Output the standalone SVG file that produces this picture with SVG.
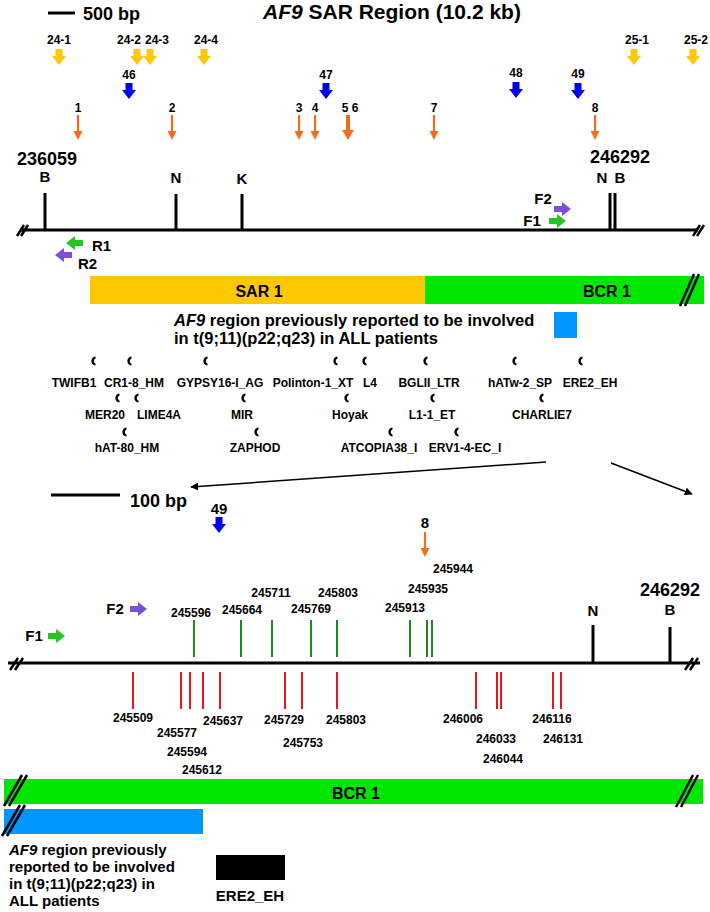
<svg xmlns="http://www.w3.org/2000/svg" xmlns:xlink="http://www.w3.org/1999/xlink" width="710" height="912" viewBox="0 0 710 912">
<style>
text{font-family:"Liberation Sans",Arial,Helvetica,sans-serif;font-weight:bold;fill:#000}
.t12{font-size:12px}
.t15{font-size:15px}
.t16{font-size:16px}
.t18{font-size:18px}
.mid{text-anchor:middle}
.ax{stroke:#000;stroke-width:3;fill:none}
.gt{stroke:#1c8a1c;stroke-width:2}
.rt{stroke:#e8161e;stroke-width:2}
.brk{stroke:#000;stroke-width:2.5}
.zl{stroke:#000;stroke-width:1.5;fill:none}
</style>
<defs>
<path id="darr" d="M-3.5,0H3.5V7H7L0,16L-7,7H-3.5Z"/>
<path id="rarr" d="M-8,-3H0V-7L9,0L0,7V3H-8Z"/>
<path id="larr" d="M8,-3H0V-7L-9,0L0,7V3H8Z"/>
<g id="oarr"><line x1="0" y1="0" x2="0" y2="17" stroke="#f36d21" stroke-width="2.2"/><path d="M-4.5,16L4.5,16L0,25Z" fill="#f36d21"/></g>
<g id="oarrb"><line x1="0" y1="0" x2="0" y2="16" stroke="#f36d21" stroke-width="4"/><path d="M-6,15L6,15L0,25Z" fill="#f36d21"/></g>
<path id="cres" d="M2.5,-4.5C-3,-4 -3,4 2.5,4.5L2.5,2.6C0.3,1.6 0.3,-1.6 2.5,-2.6Z" fill="#000"/>
<marker id="ah" viewBox="0 0 10 10" refX="9" refY="5" markerWidth="8" markerHeight="8" markerUnits="userSpaceOnUse" orient="auto"><path d="M0,0L10,5L0,10Z" fill="#000"/></marker>
</defs>

<g id="title">
<text x="263" y="19" style="font-size:21px"><tspan font-style="italic">AF9</tspan> SAR Region (10.2 kb)</text>
</g>
<g id="scale500">
<line x1="48" y1="13" x2="75" y2="13" stroke="#000" stroke-width="3"/>
<text x="83" y="20" class="t18">500 bp</text>
</g>

<g id="yellow-sites" fill="#fdc70c">
<use xlink:href="#darr" x="59" y="49"/><text x="59" y="44" class="t12 mid">24-1</text>
<use xlink:href="#darr" x="137" y="49"/><text x="129" y="44" class="t12 mid">24-2</text>
<use xlink:href="#darr" x="150" y="49"/><text x="157" y="44" class="t12 mid">24-3</text>
<use xlink:href="#darr" x="204" y="49"/><text x="206" y="44" class="t12 mid">24-4</text>
<use xlink:href="#darr" x="634" y="49"/><text x="637" y="44" class="t12 mid">25-1</text>
<use xlink:href="#darr" x="693" y="49"/><text x="696" y="44" class="t12 mid">25-2</text>
</g>

<g id="blue-sites" fill="#0000f0">
<use xlink:href="#darr" x="129" y="83"/><text x="129" y="79" class="t12 mid">46</text>
<use xlink:href="#darr" x="326" y="83"/><text x="326" y="79" class="t12 mid">47</text>
<use xlink:href="#darr" x="516" y="82"/><text x="516" y="77" class="t12 mid">48</text>
<use xlink:href="#darr" x="578" y="83"/><text x="578" y="78" class="t12 mid">49</text>
</g>

<g id="orange-sites">
<use xlink:href="#oarr" x="78" y="115"/><text x="78" y="112" class="t12 mid">1</text>
<use xlink:href="#oarr" x="172" y="115"/><text x="172" y="112" class="t12 mid">2</text>
<use xlink:href="#oarr" x="299" y="115"/><text x="299" y="112" class="t12 mid">3</text>
<use xlink:href="#oarr" x="315" y="115"/><text x="315" y="112" class="t12 mid">4</text>
<use xlink:href="#oarrb" x="348" y="115"/><text x="350" y="112" class="t12 mid">5 6</text>
<use xlink:href="#oarr" x="434" y="115"/><text x="434" y="112" class="t12 mid">7</text>
<use xlink:href="#oarr" x="595" y="115"/><text x="595" y="112" class="t12 mid">8</text>
</g>

<g id="map-top">
<line x1="20" y1="230" x2="698" y2="230" class="ax"/>
<line x1="17" y1="236" x2="24" y2="225" class="brk"/>
<line x1="21" y1="236" x2="28" y2="225" class="brk"/>
<line x1="693" y1="236" x2="700" y2="225" class="brk"/>
<line x1="697" y1="236" x2="704" y2="225" class="brk"/>
<line x1="45" y1="193" x2="45" y2="230" class="ax"/>
<line x1="176" y1="194" x2="176" y2="230" class="ax"/>
<line x1="242" y1="194" x2="242" y2="230" class="ax"/>
<line x1="610" y1="193" x2="610" y2="230" class="ax"/>
<line x1="615" y1="193" x2="615" y2="230" class="ax"/>
<text x="47" y="165" class="t18 mid">236059</text>
<text x="45" y="182" class="t15 mid">B</text>
<text x="176" y="183" class="t15 mid">N</text>
<text x="242" y="184" class="t15 mid">K</text>
<text x="620" y="163" class="t18 mid">246292</text>
<text x="602" y="183" class="t15 mid">N</text>
<text x="620" y="183" class="t15 mid">B</text>
</g>

<g id="primers-top">
<use xlink:href="#rarr" x="562" y="209" fill="#7b4fd9"/><text x="543" y="204" class="t15 mid">F2</text>
<use xlink:href="#rarr" x="557" y="221" fill="#25c425"/><text x="532" y="226" class="t15 mid">F1</text>
<use xlink:href="#larr" x="75" y="243" fill="#25c425"/><text x="92" y="251" class="t15">R1</text>
<use xlink:href="#larr" x="64" y="255" fill="#7b4fd9"/><text x="78" y="269" class="t15">R2</text>
</g>

<g id="bars-top">
<rect x="90" y="276" width="335" height="28" fill="#fec800"/>
<rect x="425" y="276" width="279" height="28" fill="#00e600"/>
<text x="259" y="297" class="t16 mid">SAR 1</text>
<text x="607" y="297" class="t16 mid">BCR 1</text>
<line x1="680" y1="306" x2="694" y2="274" class="brk"/>
<line x1="685" y1="306" x2="699" y2="274" class="brk"/>
</g>

<g id="note-top">
<text x="174" y="326" style="font-size:16.5px"><tspan font-style="italic">AF9</tspan> region previously reported to be involved</text>
<text x="174" y="344" style="font-size:16.5px">in t(9;11)(p22;q23) in ALL patients</text>
<rect x="554" y="312" width="23" height="26" fill="#0096ff"/>
</g>

<g id="repeats">
<use xlink:href="#cres" x="93" y="361"/><use xlink:href="#cres" x="129" y="361"/><use xlink:href="#cres" x="205" y="361"/><use xlink:href="#cres" x="335" y="361"/>
<use xlink:href="#cres" x="364" y="361"/><use xlink:href="#cres" x="425" y="361"/><use xlink:href="#cres" x="514" y="361"/><use xlink:href="#cres" x="580" y="361"/>
<use xlink:href="#cres" x="117" y="398"/><use xlink:href="#cres" x="136" y="398"/><use xlink:href="#cres" x="243" y="398"/><use xlink:href="#cres" x="346" y="398"/>
<use xlink:href="#cres" x="432" y="398"/><use xlink:href="#cres" x="541" y="398"/>
<use xlink:href="#cres" x="124" y="432"/><use xlink:href="#cres" x="256" y="432"/><use xlink:href="#cres" x="390" y="432"/><use xlink:href="#cres" x="456" y="432"/>
<text x="74" y="387" class="t12 mid">TWIFB1</text>
<text x="134" y="387" class="t12 mid">CR1-8_HM</text>
<text x="220" y="387" class="t12 mid">GYPSY16-I_AG</text>
<text x="313" y="387" class="t12 mid">Polinton-1_XT</text>
<text x="370" y="387" class="t12 mid">L4</text>
<text x="429" y="387" class="t12 mid">BGLII_LTR</text>
<text x="520" y="387" class="t12 mid">hATw-2_SP</text>
<text x="590" y="387" class="t12 mid">ERE2_EH</text>
<text x="105" y="419" class="t12 mid">MER20</text>
<text x="159" y="419" class="t12 mid">LIME4A</text>
<text x="242" y="419" class="t12 mid">MIR</text>
<text x="350" y="419" class="t12 mid">Hoyak</text>
<text x="432" y="419" class="t12 mid">L1-1_ET</text>
<text x="542" y="419" class="t12 mid">CHARLIE7</text>
<text x="127" y="452" class="t12 mid">hAT-80_HM</text>
<text x="255" y="452" class="t12 mid">ZAPHOD</text>
<text x="379" y="452" class="t12 mid">ATCOPIA38_I</text>
<text x="465" y="452" class="t12 mid">ERV1-4-EC_I</text>
</g>

<g id="connectors">
<line x1="546" y1="462" x2="191" y2="487" class="zl" marker-end="url(#ah)"/>
<line x1="611" y1="463" x2="692" y2="494" class="zl" marker-end="url(#ah)"/>
</g>

<g id="scale100">
<line x1="51" y1="495" x2="120" y2="495" stroke="#000" stroke-width="3"/>
<text x="130" y="507" class="t18">100 bp</text>
</g>

<g id="sites-lower">
<use xlink:href="#darr" x="219" y="517" fill="#0000f0"/><text x="219" y="514" class="t15 mid">49</text>
<use xlink:href="#oarr" x="425" y="532"/><text x="425" y="528" class="t15 mid">8</text>
</g>

<g id="primers-lower">
<use xlink:href="#rarr" x="138" y="609" fill="#7b4fd9"/><text x="115" y="614" class="t15 mid">F2</text>
<use xlink:href="#rarr" x="56" y="636" fill="#25c425"/><text x="34" y="641" class="t15 mid">F1</text>
</g>

<g id="map-lower">
<line x1="8" y1="663" x2="700" y2="663" class="ax"/>
<line x1="10" y1="670" x2="18" y2="658" class="brk"/>
<line x1="15" y1="670" x2="23" y2="658" class="brk"/>
<line x1="685" y1="670" x2="693" y2="658" class="brk"/>
<line x1="690" y1="670" x2="698" y2="658" class="brk"/>
<line x1="593" y1="625" x2="593" y2="663" class="ax"/>
<line x1="670" y1="627" x2="670" y2="663" class="ax"/>
<text x="593" y="616" class="t15 mid">N</text>
<text x="670" y="615" class="t15 mid">B</text>
<text x="670" y="596" class="t18 mid">246292</text>
</g>

<g id="green-ticks">
<line x1="194" y1="620" x2="194" y2="657" class="gt"/>
<line x1="241" y1="620" x2="241" y2="657" class="gt"/>
<line x1="272" y1="620" x2="272" y2="657" class="gt"/>
<line x1="311" y1="620" x2="311" y2="657" class="gt"/>
<line x1="337" y1="620" x2="337" y2="657" class="gt"/>
<line x1="410" y1="620" x2="410" y2="657" class="gt"/>
<line x1="427" y1="620" x2="427" y2="657" class="gt"/>
<line x1="432" y1="620" x2="432" y2="657" class="gt"/>
<text x="191" y="617" class="t12 mid">245596</text>
<text x="242" y="614" class="t12 mid">245664</text>
<text x="271" y="597" class="t12 mid">245711</text>
<text x="311" y="613" class="t12 mid">245769</text>
<text x="338" y="597" class="t12 mid">245803</text>
<text x="405" y="612" class="t12 mid">245913</text>
<text x="428" y="593" class="t12 mid">245935</text>
<text x="453" y="573" class="t12 mid">245944</text>
</g>

<g id="red-ticks">
<line x1="133" y1="672" x2="133" y2="709" class="rt"/>
<line x1="181" y1="672" x2="181" y2="709" class="rt"/>
<line x1="190" y1="672" x2="190" y2="709" class="rt"/>
<line x1="203" y1="672" x2="203" y2="709" class="rt"/>
<line x1="220" y1="672" x2="220" y2="709" class="rt"/>
<line x1="285" y1="672" x2="285" y2="709" class="rt"/>
<line x1="302" y1="672" x2="302" y2="709" class="rt"/>
<line x1="337" y1="672" x2="337" y2="709" class="rt"/>
<line x1="476" y1="672" x2="476" y2="709" class="rt"/>
<line x1="497" y1="672" x2="497" y2="709" class="rt"/>
<line x1="501" y1="672" x2="501" y2="709" class="rt"/>
<line x1="553" y1="672" x2="553" y2="709" class="rt"/>
<line x1="561" y1="672" x2="561" y2="709" class="rt"/>
<text x="133" y="722" class="t12 mid">245509</text>
<text x="177" y="737" class="t12 mid">245577</text>
<text x="187" y="756" class="t12 mid">245594</text>
<text x="202" y="774" class="t12 mid">245612</text>
<text x="223" y="725" class="t12 mid">245637</text>
<text x="284" y="724" class="t12 mid">245729</text>
<text x="303" y="747" class="t12 mid">245753</text>
<text x="346" y="724" class="t12 mid">245803</text>
<text x="463" y="723" class="t12 mid">246006</text>
<text x="496" y="743" class="t12 mid">246033</text>
<text x="503" y="763" class="t12 mid">246044</text>
<text x="552" y="723" class="t12 mid">246116</text>
<text x="563" y="743" class="t12 mid">246131</text>
</g>

<g id="bars-lower">
<rect x="4" y="779" width="699" height="25" fill="#00e600"/>
<text x="356" y="799" class="t16 mid">BCR 1</text>
<line x1="4" y1="806" x2="22" y2="775" class="brk"/>
<line x1="9" y1="806" x2="27" y2="775" class="brk"/>
<line x1="676" y1="807" x2="693" y2="775" class="brk"/>
<line x1="681" y1="807" x2="698" y2="775" class="brk"/>
<rect x="4" y="809" width="199" height="25" fill="#0096ff"/>
<line x1="2" y1="836" x2="20" y2="805" class="brk"/>
<line x1="7" y1="836" x2="25" y2="805" class="brk"/>
</g>

<g id="note-lower">
<text x="9" y="855" class="t15"><tspan font-style="italic">AF9</tspan> region previously</text>
<text x="9" y="872" class="t15">reported to be involved</text>
<text x="9" y="889" class="t15">in t(9;11)(p22;q23) in</text>
<text x="9" y="906" class="t15">ALL patients</text>
</g>

<g id="ere2-box">
<rect x="216" y="855" width="69" height="25" fill="#000"/>
<text x="250" y="901" class="t15 mid">ERE2_EH</text>
</g>
</svg>
